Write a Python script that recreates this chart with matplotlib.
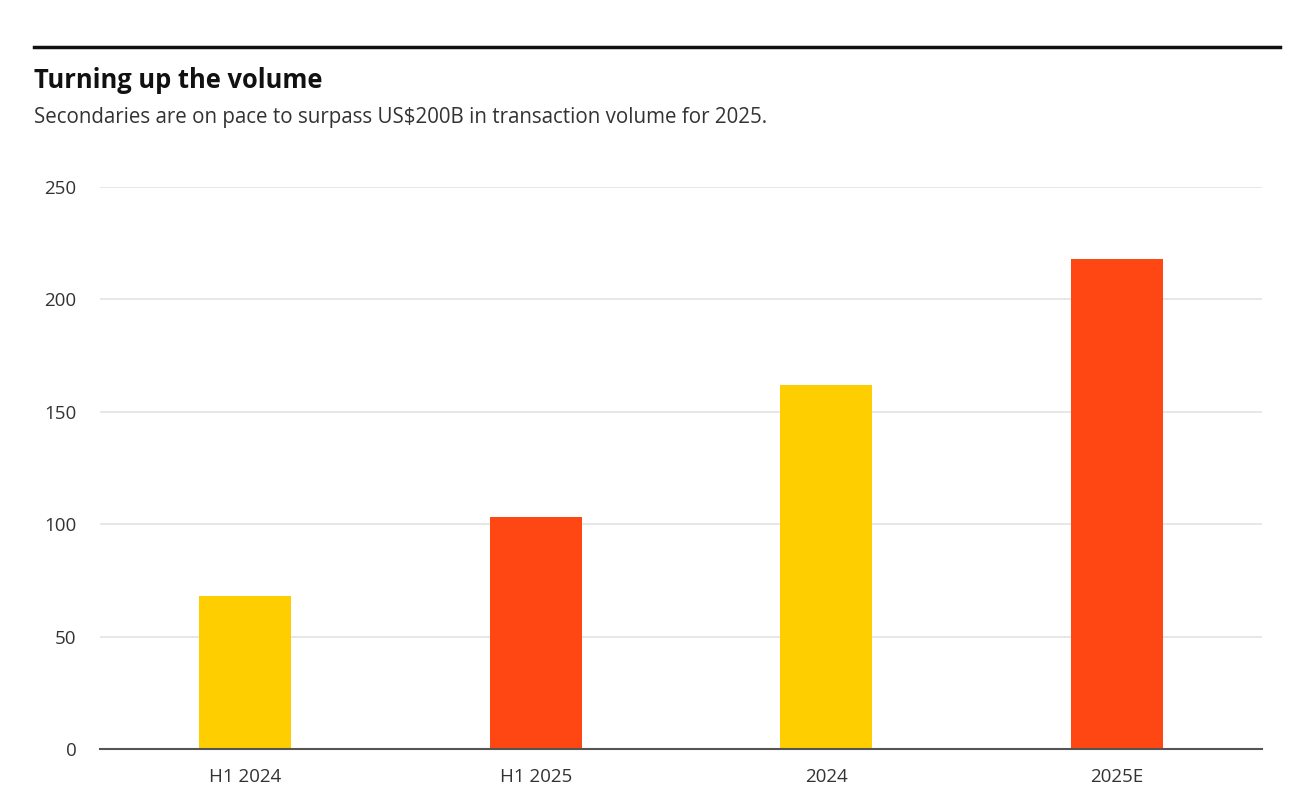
import matplotlib
matplotlib.use('Agg')
import matplotlib.pyplot as plt
from matplotlib.lines import Line2D

## chart data
categories = ['H1 2024', 'H1 2025', '2024', '2025E']
volume = [68, 103, 162, 218]
bar_colors = ['#FFCE00', '#FF4713', '#FFCE00', '#FF4713']
y_ticks = [0, 50, 100, 150, 200, 250]

plt.rcParams['font.family'] = ['Open Sans', 'DejaVu Sans']

W, H = 1312, 801
fig = plt.figure(figsize=(W / 100, H / 100), dpi=100)

# plot area in pixel terms
left, right, bottom, top = 100, 1262, 749, 187
ax = fig.add_axes([left / W, 1 - bottom / H, (right - left) / W, (bottom - top) / H])

x = range(len(categories))
ax.bar(x, volume, width=0.315, color=bar_colors, zorder=3)

ax.set_xlim(-0.5, len(categories) - 0.5)
ax.set_ylim(0, 250)
ax.set_yticks(y_ticks)
ax.set_xticks(list(x))
ax.set_xticklabels(categories)
ax.grid(axis='y', color='#e3e3e3', linewidth=1.2, zorder=0)

for side in ['top', 'right', 'left']:
    ax.spines[side].set_visible(False)
ax.spines['bottom'].set_color('#555555')
ax.spines['bottom'].set_linewidth(1.5)
ax.spines['bottom'].set_zorder(4)
ax.tick_params(axis='both', length=0, labelsize=13.5, labelcolor='#333333')
ax.tick_params(axis='y', pad=17)
ax.tick_params(axis='x', pad=14)

# header: rule, title, subtitle
fig.add_artist(Line2D([34 / W, 1280 / W], [1 - 47 / H, 1 - 47 / H], color='#111111', linewidth=2.5))
fig.text(34 / W, 1 - 80 / H, 'Turning up the volume', fontsize=18.4, fontweight='bold',
         color='#111111', va='center', ha='left')
fig.text(34 / W, 1 - 117 / H, 'Secondaries are on pace to surpass US$200B in transaction volume for 2025.',
         fontsize=14.8, color='#333333', va='center', ha='left')

fig.savefig('out.png', dpi=100, facecolor='white')
